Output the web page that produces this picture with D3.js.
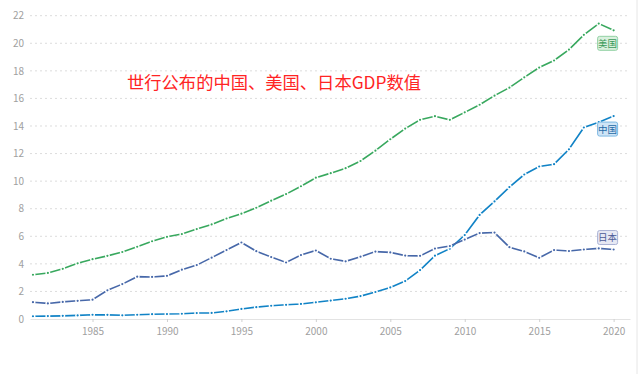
<!DOCTYPE html>
<html>
<head>
<meta charset="utf-8">
<script src="https://cdn.jsdelivr.net/npm/d3@7"></script>
<style>
  body { margin: 0; background: #fff; }
  text { font-family: "Noto Sans CJK SC", "Noto Sans", sans-serif; }
</style>
</head>
<body>
<div id="chart"></div>
<script>
// Data (trillion USD, current)
const years = d3.range(1981, 2021);
const usa = [3.21, 3.34, 3.64, 4.04, 4.34, 4.58, 4.86, 5.24, 5.64, 5.96,
  6.16, 6.52, 6.86, 7.29, 7.64, 8.07, 8.58, 9.06, 9.63, 10.25,
  10.58, 10.94, 11.46, 12.21, 13.04, 13.81, 14.45, 14.71, 14.45, 14.99,
  15.54, 16.2, 16.78, 17.53, 18.24, 18.75, 19.54, 20.61, 21.43, 20.94];
const china = [0.2, 0.21, 0.23, 0.26, 0.31, 0.3, 0.27, 0.31, 0.35, 0.36,
  0.38, 0.43, 0.44, 0.56, 0.73, 0.86, 0.96, 1.03, 1.09, 1.21,
  1.34, 1.47, 1.66, 1.96, 2.29, 2.75, 3.55, 4.59, 5.1, 6.09,
  7.55, 8.53, 9.57, 10.48, 11.06, 11.23, 12.31, 13.89, 14.28, 14.72];
const japan = [1.22, 1.13, 1.24, 1.32, 1.4, 2.08, 2.53, 3.07, 3.05, 3.13,
  3.58, 3.91, 4.45, 5.0, 5.55, 4.92, 4.49, 4.1, 4.64, 4.97,
  4.37, 4.18, 4.52, 4.89, 4.83, 4.6, 4.58, 5.11, 5.29, 5.76,
  6.23, 6.27, 5.21, 4.9, 4.44, 5.0, 4.93, 5.04, 5.12, 5.04];
const seriesNames = ["美国", "中国", "日本"];
const xTicks = [1985, 1990, 1995, 2000, 2005, 2010, 2015, 2020];
const yTicks = d3.range(0, 23, 2);
const title = "世行公布的中国、美国、日本GDP数值";

const series = [
  { name: seriesNames[0], values: usa, color: "#38a85e", fill: "#d9f0de", border: "#92d1a4", text: "#3b9a5a", dy: 13 },
  { name: seriesNames[1], values: china, color: "#1183c6", fill: "#cfe5f6", border: "#7db8e2", text: "#1f6aa6", dy: 13 },
  { name: seriesNames[2], values: japan, color: "#4768a9", fill: "#e6e8f3", border: "#aab2d5", text: "#4b5a96", dy: -12 },
];

const width = 640;
const height = 374;

const svg = d3.select("#chart")
  .append("svg")
  .attr("width", width)
  .attr("height", height);

const xScale = d3.scaleLinear().domain([1980.8, 2021.1]).range([30, 630]);
const yScale = d3.scaleLinear().domain([0, 22]).range([319, 15.7]);

// right border
svg.append("line")
  .attr("x1", 637).attr("x2", 637)
  .attr("y1", 0).attr("y2", height)
  .attr("stroke", "#e6e6e6");

// grid
svg.append("g")
  .selectAll("line")
  .data(yTicks.filter(d => d > 0))
  .join("line")
  .attr("x1", 30).attr("x2", 630)
  .attr("y1", d => yScale(d)).attr("y2", d => yScale(d))
  .attr("stroke", "#dcdcdc")
  .attr("stroke-dasharray", "2,3");

// y axis labels
const yAxis = d3.axisLeft(yScale).tickValues(yTicks).tickSize(0).tickPadding(6);
svg.append("g")
  .attr("transform", "translate(30,0)")
  .call(yAxis)
  .call(g => g.select(".domain").remove())
  .call(g => g.selectAll("text").attr("fill", "#a0a0a0").attr("font-size", 10)
    .attr("font-family", '"Open Sans", sans-serif'));

// x axis
const xAxis = d3.axisBottom(xScale).tickValues(xTicks).tickFormat(d3.format("d"))
  .tickSize(3).tickSizeOuter(0).tickPadding(6);
svg.append("g")
  .attr("transform", `translate(0,${yScale(0)})`)
  .call(xAxis)
  .call(g => g.select(".domain").attr("stroke", "#e3e3e3"))
  .call(g => g.selectAll(".tick line").attr("stroke", "#d0d0d0"))
  .call(g => g.selectAll("text").attr("fill", "#a0a0a0").attr("font-size", 10)
    .attr("font-family", '"Open Sans", sans-serif'));

// lines
const lineGenerator = d3.line()
  .x((d, i) => xScale(years[i]))
  .y(d => yScale(d));

series.forEach(s => {
  const g = svg.append("g");
  g.append("path")
    .datum(s.values)
    .attr("d", lineGenerator)
    .attr("fill", "none")
    .attr("stroke", s.color)
    .attr("stroke-width", 1.6);
  g.selectAll("circle")
    .data(s.values)
    .join("circle")
    .attr("cx", (d, i) => xScale(years[i]))
    .attr("cy", d => yScale(d))
    .attr("r", 1.8)
    .attr("fill", s.color)
    .attr("stroke", "#fff")
    .attr("stroke-width", 1.4);

  // end label
  const last = s.values[s.values.length - 1];
  const cx = xScale(years[years.length - 1]) - 6;
  const cy = yScale(last) + s.dy;
  g.append("rect")
    .attr("x", cx - 10).attr("y", cy - 7)
    .attr("width", 20).attr("height", 14)
    .attr("rx", 2)
    .attr("fill", s.fill)
    .attr("stroke", s.border);
  g.append("text")
    .attr("x", cx).attr("y", cy + 3.5)
    .attr("text-anchor", "middle")
    .attr("font-size", 9.5)
    .attr("fill", s.text)
    .text(s.name);
});

// title
svg.append("text")
  .attr("x", 127)
  .attr("y", 89)
  .attr("font-size", 17.3)
  .attr("fill", "#ff2424")
  .text(title);
</script>
</body>
</html>
